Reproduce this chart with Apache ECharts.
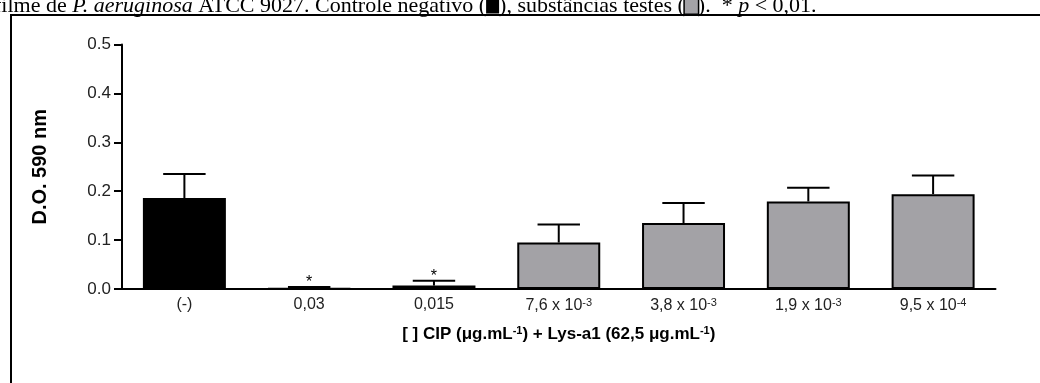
<!DOCTYPE html>
<html>
<head>
<meta charset="utf-8">
<script src="https://cdn.jsdelivr.net/npm/echarts@6/dist/echarts.min.js"></script>
<style>
  html, body { margin: 0; padding: 0; background: #fff; }
  #chart { width: 1040px; height: 383px; }
</style>
</head>
<body>
<div id="chart"></div>
<script>
// categorias: [ ] CIP
const categorias = ['(-)', '0,03', '0,015', '7,6 x 10{sup|-3}', '3,8 x 10{sup|-3}', '1,9 x 10{sup|-3}', '9,5 x 10{sup|-4}']
// D.O. 590 nm (média)
const medias = [0.186, 0.001, 0.007, 0.095, 0.135, 0.179, 0.194]
// desvio padrão
const desvios = [0.049, 0.003, 0.010, 0.037, 0.041, 0.028, 0.038]
// * p < 0,01
const marcas = ['', '*', '*', '', '', '', '']
// cor de cada barra: controle negativo / substâncias testes
const cores = ['#000000', '#a3a2a6', '#a3a2a6', '#a3a2a6', '#a3a2a6', '#a3a2a6', '#a3a2a6']

const fonte = 'Arial'
const serif = 'Liberation Serif'

const myChart = echarts.init(document.querySelector('#chart'))

const option = {
  animation: false,
  grid: {
    left: 122,
    right: 44.5,
    top: 44.5,
    bottom: 94
  },
  graphic: [
    // moldura da figura
    {
      type: 'rect',
      shape: { x: 11, y: 15, width: 1100, height: 500 },
      style: { fill: 'none', stroke: '#000', lineWidth: 2 }
    },
    // legenda cortada no topo
    {
      type: 'text',
      x: -6,
      y: 17,
      style: {
        text: 'filme de {it|P. aeruginosa} ATCC 9027. Controle negativo ({blk|}), substâncias testes ({gry|}).  * {it|p} < 0,01.',
        font: '22px ' + serif,
        fill: '#000',
        verticalAlign: 'bottom',
        rich: {
          it: { fontStyle: 'italic', fontFamily: serif, fontSize: 22 },
          blk: { width: 13, height: 15, backgroundColor: '#000' },
          gry: { width: 13, height: 15, backgroundColor: '#a3a2a6', borderColor: '#000', borderWidth: 1.5 }
        }
      }
    }
  ],
  xAxis: {
    type: 'category',
    data: categorias,
    name: '[ ] CIP (μg.mL{sup|-1}) + Lys-a1 (62,5 μg.mL{sup|-1})',
    nameLocation: 'middle',
    nameGap: 36,
    nameTextStyle: {
      fontFamily: fonte,
      fontSize: 17,
      fontWeight: 'bold',
      color: '#000',
      rich: {
        sup: { fontSize: 11, fontWeight: 'bold', fontFamily: fonte, verticalAlign: 'top', color: '#000', padding: [0, 0, 7, 0] }
      }
    },
    axisLine: { lineStyle: { color: '#000', width: 2 } },
    axisTick: { show: false },
    axisLabel: {
      interval: 0,
      margin: 8,
      fontFamily: fonte,
      fontSize: 16,
      color: '#222',
      rich: {
        sup: { fontSize: 11, fontFamily: fonte, color: '#222', verticalAlign: 'top', padding: [0, 0, 6, 0] }
      }
    }
  },
  yAxis: {
    type: 'value',
    min: 0,
    max: 0.5,
    interval: 0.1,
    name: 'D.O. 590 nm',
    nameLocation: 'middle',
    nameGap: 72,
    nameTextStyle: {
      fontFamily: fonte,
      fontSize: 20,
      fontWeight: 'bold',
      color: '#000'
    },
    axisLine: { show: true, lineStyle: { color: '#000', width: 2 } },
    axisTick: { show: true, length: 8, lineStyle: { color: '#000', width: 2 } },
    axisLabel: {
      margin: 11,
      fontFamily: fonte,
      fontSize: 17,
      color: '#222',
      formatter: v => v.toFixed(1)
    },
    splitLine: { show: false }
  },
  series: [
    {
      type: 'bar',
      barCategoryGap: '33.5%',
      data: medias.map((m, i) => ({
        value: m,
        itemStyle: { color: cores[i], borderColor: '#000', borderWidth: 2 }
      }))
    },
    {
      // barras de erro (desvio padrão) + asteriscos
      type: 'custom',
      z: 5,
      data: medias.map((m, i) => [i, m, m + desvios[i], marcas[i]]),
      encode: { x: 0, y: 2 },
      renderItem: (params, api) => {
        const i = api.value(0)
        const base = api.coord([i, api.value(1)])
        const top = api.coord([i, api.value(2)])
        const half = api.size([1, 0])[0] * 0.17
        const children = [
          {
            type: 'line',
            shape: { x1: base[0], y1: base[1], x2: top[0], y2: top[1] },
            style: { stroke: '#000', lineWidth: 2 }
          },
          {
            type: 'line',
            shape: { x1: top[0] - half, y1: top[1], x2: top[0] + half, y2: top[1] },
            style: { stroke: '#000', lineWidth: 2 }
          }
        ]
        const marca = marcas[params.dataIndex]
        if (marca) {
          children.push({
            type: 'text',
            style: {
              text: marca,
              x: top[0],
              y: top[1] - 4,
              align: 'center',
              verticalAlign: 'middle',
              font: '16px ' + fonte,
              fill: '#000'
            }
          })
        }
        return { type: 'group', children }
      }
    }
  ]
}

myChart.setOption(option)
</script>
</body>
</html>
